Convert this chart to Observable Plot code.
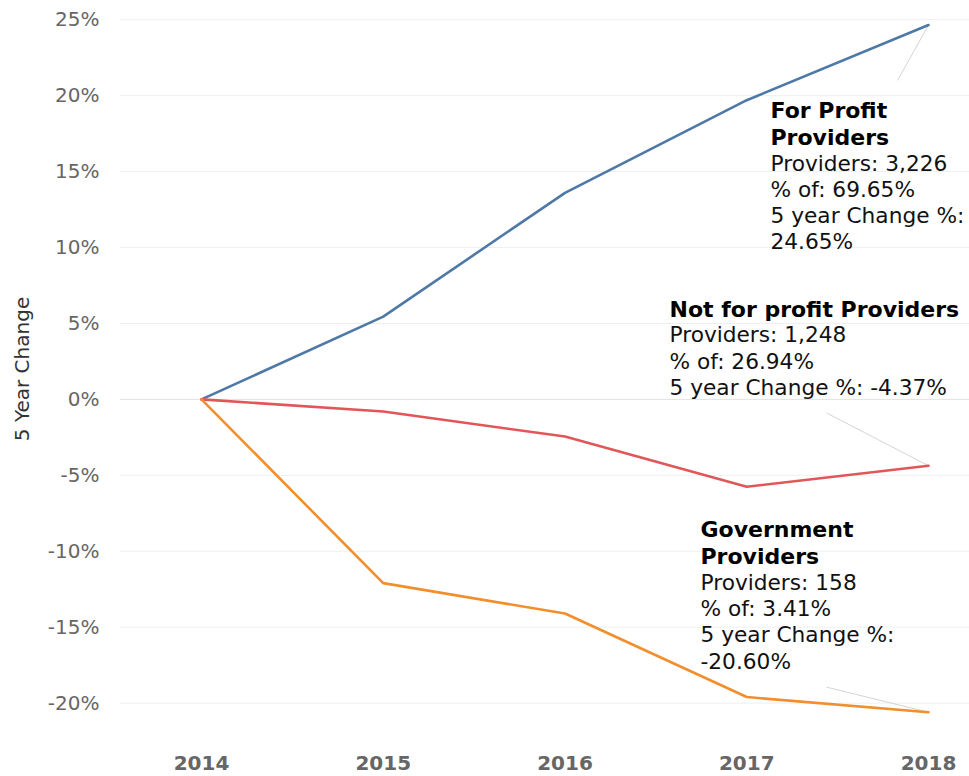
<!DOCTYPE html>
<html><head><meta charset="utf-8">
<script src="https://cdn.jsdelivr.net/npm/d3@7"></script>
<script src="https://cdn.jsdelivr.net/npm/@observablehq/plot@0.6"></script>
<style>
body{margin:0;background:#fff}
#chart svg{font-family:"DejaVu Sans",sans-serif;display:block}
</style>
</head><body><div id="chart"></div>
<script>
const years = [2014, 2015, 2016, 2017, 2018];
const forProfit = [0, 5.45, 13.6, 19.7, 24.65];
const notForProfit = [0, -0.8, -2.45, -5.75, -4.37];
const government = [0, -12.1, -14.1, -19.6, -20.6];
const seriesNames = ["For Profit Providers", "Not for profit Providers", "Government Providers"];
const seriesColors = ["#4e79a7", "#e15759", "#f28e2b"];
const yTicks = [-20, -15, -10, -5, 0, 5, 10, 15, 20, 25];
const titles = ["For Profit\nProviders", "Not for profit Providers", "Government\nProviders"];
const providerCounts = ["3,226", "1,248", "158"];
const shareOf = ["69.65%", "26.94%", "3.41%"];
const changePct = ["24.65%", "-4.37%", "-20.60%"];

const seriesValues = [forProfit, notForProfit, government];
const rows = [];
seriesNames.forEach((s, i) => years.forEach((y, j) => rows.push({series: s, year: y, value: seriesValues[i][j]})));
const ends = seriesNames.map((s, i) => ({series: s, year: years[years.length - 1], value: seriesValues[i][years.length - 1]}));

const bodies = [
  `Providers: ${providerCounts[0]}\n% of: ${shareOf[0]}\n5 year Change %:\n${changePct[0]}`,
  `Providers: ${providerCounts[1]}\n% of: ${shareOf[1]}\n5 year Change %: ${changePct[1]}`,
  `Providers: ${providerCounts[2]}\n% of: ${shareOf[2]}\n5 year Change %:\n${changePct[2]}`
];
// annotation placement (pixel offsets from each series' end point)
const place = [
  {dx: -158, dyTitle: 74, dyBody: 127, lx: 2017.83, ly: 21.0},
  {dx: -259, dyTitle: -168, dyBody: -142, lx: 2017.44, ly: -0.9},
  {dx: -228, dyTitle: -194, dyBody: -141, lx: 2017.44, ly: -18.95}
];

const annotationMarks = [];
ends.forEach((e, i) => {
  const p = place[i];
  annotationMarks.push(Plot.link([e], {x1: "year", y1: "value", x2: () => p.lx, y2: () => p.ly, stroke: "#d4d4d4", strokeWidth: 1}));
  annotationMarks.push(Plot.text([e], {x: "year", y: "value", text: () => titles[i], dx: p.dx, dy: p.dyTitle, textAnchor: "start", lineAnchor: "top", lineHeight: 1.21, fontSize: 22, fontWeight: "bold", fill: "#000"}));
  annotationMarks.push(Plot.text([e], {x: "year", y: "value", text: () => bodies[i], dx: p.dx, dy: p.dyBody, textAnchor: "start", lineAnchor: "top", lineHeight: 1.21, fontSize: 21.7, fill: "#111"}));
});

const chart = Plot.plot({
  width: 969,
  height: 776,
  marginLeft: 120,
  marginRight: 0,
  marginTop: 4,
  marginBottom: 43,
  x: {domain: [2014, 2018], insetLeft: 81, insetRight: 41},
  y: {domain: [-22, 26]},
  color: {domain: seriesNames, range: seriesColors},
  marks: [
    Plot.ruleY(yTicks.filter(d => d !== 0), {stroke: "#efefef", strokeWidth: 1}),
    Plot.ruleY([0], {stroke: "#e2e2e2", strokeWidth: 1}),
    Plot.axisY({ticks: yTicks, tickFormat: d => d + "%", tickSize: 0, tickPadding: 21, fontSize: 20, color: "#666",
      label: "5 Year Change", labelAnchor: "center", labelArrow: "none", labelOffset: 106}),
    Plot.axisX({ticks: years, tickFormat: d => String(d), tickSize: 0, tickPadding: 22, fontSize: 20, fontWeight: "bold", color: "#666", label: null}),
    ...annotationMarks,
    Plot.line(rows, {x: "year", y: "value", stroke: "series", strokeWidth: 2.6})
  ]
});
chart.querySelectorAll('g[aria-label="y-axis label"]').forEach(n => { n.setAttribute("fill", "#333"); });
document.getElementById("chart").appendChild(chart);
</script>
</body></html>
